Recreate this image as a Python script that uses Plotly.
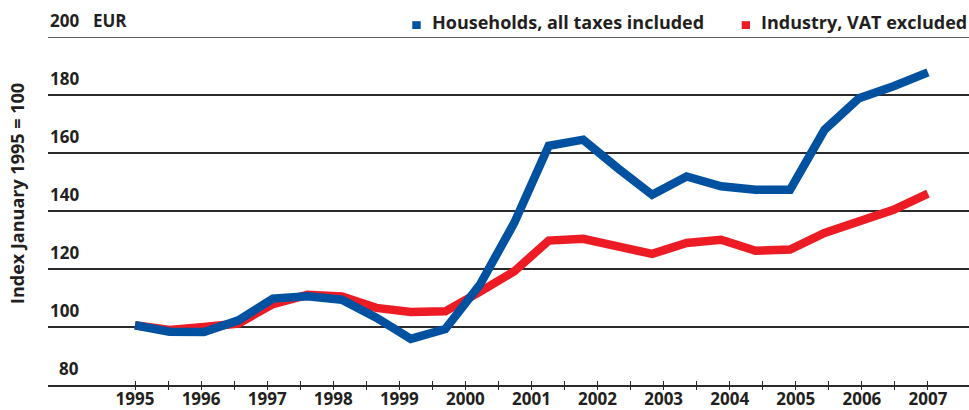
import plotly.graph_objects as go

# ---------------- data ----------------
years = [1995, 1996, 1997, 1998, 1999, 2000, 2001, 2002, 2003, 2004, 2005, 2006, 2007]
year_labels = [str(y) for y in years]
# 24 half-year observations spread evenly from 1995 to 2007
n_points = 24
households = [100.6, 98.4, 98.3, 102.3, 109.8, 110.6, 109.4, 103.2, 95.9, 99.3,
              114.5, 135.9, 162.5, 164.6, 154.8, 145.6, 151.9, 148.5, 147.3, 147.3,
              168.0, 178.9, 183.0, 187.8]
industry = [100.6, 99.0, 100.0, 101.2, 107.9, 111.1, 110.5, 106.6, 105.2, 105.4,
            112.1, 119.2, 129.8, 130.4, 127.8, 125.2, 129.0, 130.1, 126.3, 126.7,
            132.4, 136.1, 140.4, 146.0]
y_ticks = [80, 100, 120, 140, 160, 180, 200]
series_names = ["Households, all taxes included", "Industry, VAT excluded"]
y_title = "Index January 1995 = 100"
unit_label = "EUR"

# ---------------- style ----------------
BLUE = "#0052a0"
RED = "#ed1c24"
INK = "#231f20"
GRID = "#2a2a2a"
FONT = "Open Sans"

W, H = 969, 410
L, R, T, B = 48, 0, 37, 25
PW, PH = W - L - R, H - T - B

x_first, x_last = years[0], years[-1]
x = [x_first + i * (x_last - x_first) / (n_points - 1) for i in range(n_points)]
px_per_year = 66.08
x_range = [x_first - (135 - L) / px_per_year, x_first + (W - R - 135) / px_per_year]
minor_vals = [y + 0.5 for y in years[:-1]]


def fx(px):
    return (px - L) / PW


def fy(py):
    return (T + PH - py) / PH


fig = go.Figure()
fig.add_trace(go.Scatter(x=x, y=industry, mode="lines", name=series_names[1],
                         line=dict(color=RED, width=8.5), showlegend=False))
fig.add_trace(go.Scatter(x=x, y=households, mode="lines", name=series_names[0],
                         line=dict(color=BLUE, width=8.5), showlegend=False))
# helper trace so the overlay axis (outer half of the ticks) is drawn
fig.add_trace(go.Scatter(x=[], y=[], xaxis="x2", showlegend=False, hoverinfo="skip"))

tickfont = dict(family=FONT, size=17, color=INK, weight="bold")

annotations = []
for v in y_ticks:
    annotations.append(dict(text=str(v), xref="paper", x=fx(81), xanchor="right",
                            yref="y", y=v, yanchor="bottom", yshift=3,
                            showarrow=False, font=tickfont))
annotations.append(dict(text=unit_label, xref="paper", x=fx(91), xanchor="left",
                        yref="y", y=y_ticks[-1], yanchor="bottom", yshift=3,
                        showarrow=False, font=tickfont))
annotations.append(dict(text=y_title, textangle=-90, xref="paper", x=fx(17),
                        xanchor="center", yref="paper", y=fy(194), yanchor="middle",
                        showarrow=False, font=dict(family=FONT, size=18, color=INK, weight="bold")))
legfont = dict(family=FONT, size=18, color=INK, weight="bold")
annotations.append(dict(text=series_names[0], xref="paper", x=fx(430), xanchor="left",
                        yref="paper", y=fy(36), yanchor="bottom", showarrow=False, font=legfont))
annotations.append(dict(text=series_names[1], xref="paper", x=fx(759), xanchor="left",
                        yref="paper", y=fy(36), yanchor="bottom", showarrow=False, font=legfont))

shapes = [
    dict(type="rect", xref="paper", yref="paper", x0=fx(412.3), x1=fx(420.7),
         y0=fy(29), y1=fy(21.2), fillcolor=BLUE, line=dict(width=0)),
    dict(type="rect", xref="paper", yref="paper", x0=fx(741.7), x1=fx(750),
         y0=fy(29), y1=fy(21.2), fillcolor=RED, line=dict(width=0)),
    # top gridline (plotly drops gridlines lying on the range edge)
    dict(type="line", xref="paper", yref="y", x0=0, x1=1, y0=y_ticks[-1], y1=y_ticks[-1],
         line=dict(color=GRID, width=1.5), layer="below"),
]

fig.update_layout(
    width=W, height=H,
    margin=dict(l=L, r=R, t=T, b=B, pad=0, autoexpand=False),
    paper_bgcolor="white", plot_bgcolor="white",
    showlegend=False,
    xaxis=dict(range=x_range, tickmode="array", tickvals=years, ticktext=year_labels,
               ticks="inside", ticklen=4, tickwidth=1.3, tickcolor=GRID,
               ticklabelstandoff=-2,
               showline=True, linecolor=GRID, linewidth=1.5, showgrid=False,
               zeroline=False, tickfont=tickfont, fixedrange=True, automargin=False,
               minor=dict(tickmode="array", tickvals=minor_vals, ticks="inside",
                          ticklen=4, tickwidth=1.3, tickcolor=GRID, showgrid=False)),
    xaxis2=dict(range=x_range, overlaying="x", anchor="y", side="bottom",
                tickmode="array", tickvals=years, showticklabels=False,
                ticks="outside", ticklen=4, tickwidth=1.3, tickcolor=GRID,
                showline=False, showgrid=False, zeroline=False, fixedrange=True,
                automargin=False,
                minor=dict(tickmode="array", tickvals=minor_vals, ticks="outside",
                           ticklen=4, tickwidth=1.3, tickcolor=GRID, showgrid=False)),
    yaxis=dict(range=[y_ticks[0], y_ticks[-1]], tickmode="array", tickvals=y_ticks,
               showticklabels=False, ticks="", showgrid=True, gridcolor=GRID,
               gridwidth=1.5, zeroline=False, showline=False, fixedrange=True,
               automargin=False),
    annotations=annotations,
    shapes=shapes,
)

fig.write_html("out.html", config={"displayModeBar": False},
               post_script="document.body.style.margin='0px';")
